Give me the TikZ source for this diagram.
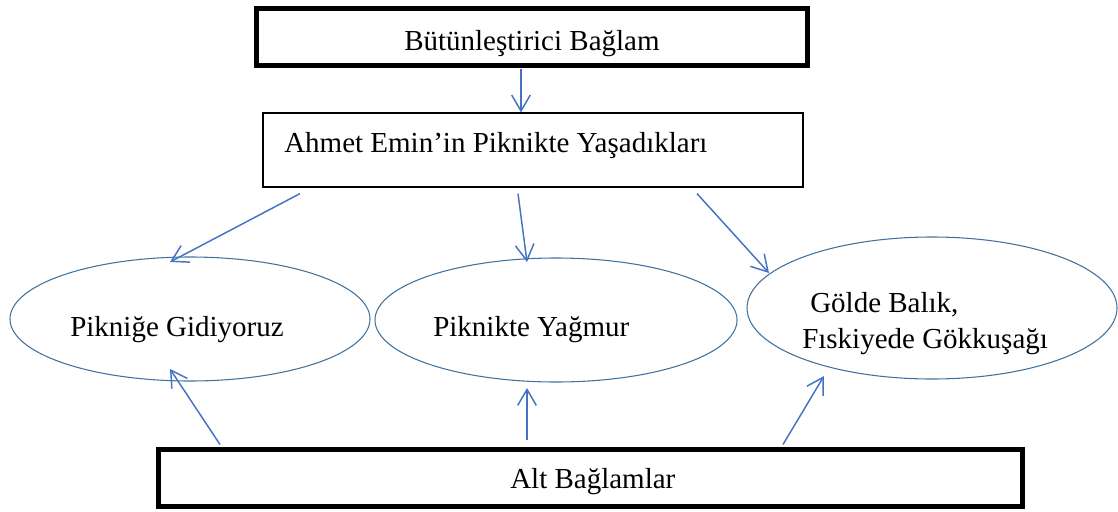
\documentclass[tikz,border=0pt]{standalone}
\usepackage{fontspec}
\setmainfont{Liberation Serif}
\usetikzlibrary{arrows.meta,calc,shapes.geometric}
\definecolor{arrowblue}{RGB}{68,114,196}
\definecolor{ellblue}{RGB}{65,113,156}
\begin{document}
\begin{tikzpicture}[x=0.75pt,y=-0.75pt,
  thickbox/.style={draw=black,line width=3.75pt,rectangle,inner sep=0pt},
  thinbox/.style={draw=black,line width=0.9pt,rectangle,inner sep=0pt},
  oval/.style={draw=ellblue,line width=0.8pt,ellipse,inner sep=0pt},
  lbl/.style={anchor=base west,inner sep=0pt,font=\fontsize{21.75}{26}\selectfont},
  conn/.style={draw=arrowblue,line width=1.1pt,-{Straight Barb[length=12pt,width=14pt]}}]
\useasboundingbox (0,0) rectangle (1118,511);

% boxes
\node[thickbox,minimum width=551*0.75pt,minimum height=57*0.75pt] (top) at (531.5,36.5) {};
\node[thinbox,minimum width=540*0.75pt,minimum height=74*0.75pt] (mid) at (533,150) {};
\node[thickbox,minimum width=864*0.75pt,minimum height=57*0.75pt] (bot) at (590,477.5) {};

% ellipses
\node[oval,minimum width=360*0.75pt,minimum height=124*0.75pt] (e1) at (190,319) {};
\node[oval,minimum width=362*0.75pt,minimum height=124*0.75pt] (e2) at (556,320) {};
\node[oval,minimum width=370*0.75pt,minimum height=142*0.75pt] (e3) at (932,308) {};

% texts
\node[lbl] (toptext) at (404,50) {Bütünleştirici Bağlam};
\node[lbl] (midtext) at (284,152) {Ahmet Emin’in Piknikte Yaşadıkları};
\node[lbl] (e1text) at (70,336) {Pikniğe Gidiyoruz};
\node[lbl] (e2text) at (433,336) {Piknikte Yağmur};
\node[lbl] (e3texta) at (810,312) {Gölde Balık,};
\node[lbl] (e3textb) at (802,348) {Fıskiyede Gökkuşağı};
\node[lbl] (bottext) at (510,488) {Alt Bağlamlar};

% connectors
\draw[conn] ($(top.south)+(-10.5,1)$) -- ($(mid.north)+(-12,0)$);
\draw[conn] ($(mid.south)+(-233,6)$) -- ($(e1.center)+(-20,-57)$);
\draw[conn] ($(mid.south)+(-15,6)$) -- ($(e2.center)+(-29,-58)$);
\draw[conn] ($(mid.south)+(164,6)$) -- ($(e3.center)+(-163,-35)$);
\draw[conn] ($(bot.north)+(-370,-2)$) -- ($(e1.center)+(-20,50)$);
\draw[conn] ($(bot.north)+(-63,-7)$) -- ($(e2.center)+(-29,68)$);
\draw[conn] ($(bot.north)+(193,-2)$) -- ($(e3.center)+(-108,68)$);
\end{tikzpicture}
\end{document}
